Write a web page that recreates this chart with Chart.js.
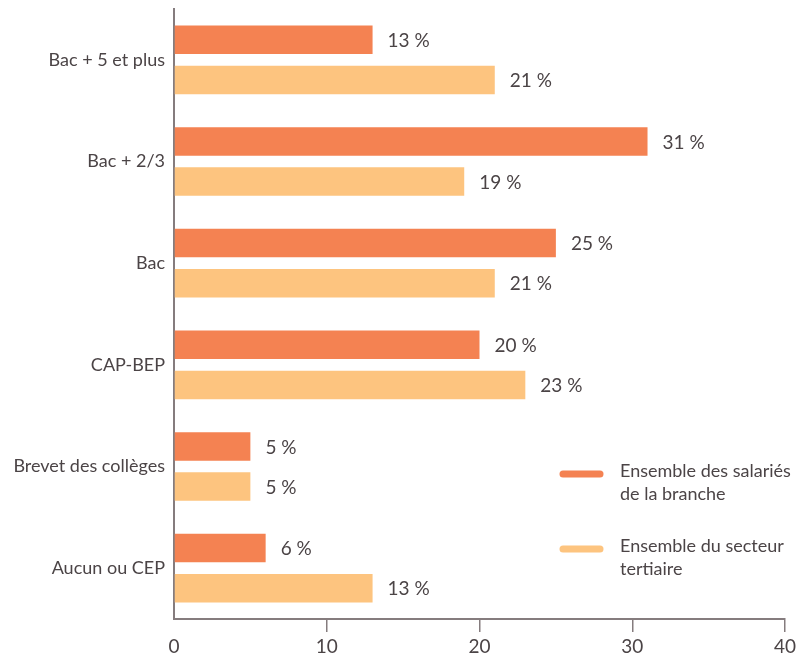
<!DOCTYPE html>
<html lang="fr">
<head>
<meta charset="utf-8">
<script src="https://cdn.jsdelivr.net/npm/chart.js@4"></script>
<style>
  html, body { margin: 0; padding: 0; background: #fff; }
  #wrap { width: 812px; height: 655px; position: relative; }
</style>
</head>
<body>
<div id="wrap"><canvas id="chart"></canvas></div>
<script>
// niveaux de diplôme
const categories = ["Bac + 5 et plus", "Bac + 2/3", "Bac", "CAP-BEP", "Brevet des collèges", "Aucun ou CEP"];
// séries en %
const brancheValues = [13, 31, 25, 20, 5, 6];
const tertiaireValues = [21, 19, 21, 23, 5, 13];
const seriesLabels = ["Ensemble des salariés\nde la branche", "Ensemble du secteur\ntertiaire"];
const xTicks = [0, 10, 20, 30, 40];

const TEXT = "#4b4446";
const AXIS = "#857c7e";
const FONT = "Lato, 'DejaVu Sans', sans-serif";

// étiquettes "xx %" en bout de barre
const valueLabels = {
  id: "valueLabels",
  afterDatasetsDraw(chart) {
    const ctx = chart.ctx;
    ctx.save();
    ctx.font = "19px " + FONT;
    ctx.fillStyle = TEXT;
    ctx.textBaseline = "middle";
    ctx.textAlign = "left";
    chart.data.datasets.forEach((ds, i) => {
      chart.getDatasetMeta(i).data.forEach((bar, j) => {
        ctx.fillText(ds.data[j] + " %", bar.x + 15, bar.y + 1);
      });
    });
    ctx.restore();
  }
};

// légende à droite, traits arrondis
const sideLegend = {
  id: "sideLegend",
  afterDraw(chart) {
    const ctx = chart.ctx;
    const ys = [474, 549];
    ctx.save();
    chart.data.datasets.forEach((ds, i) => {
      const y = ys[i];
      ctx.strokeStyle = ds.backgroundColor;
      ctx.lineWidth = 7;
      ctx.lineCap = "round";
      ctx.beginPath();
      ctx.moveTo(563, y);
      ctx.lineTo(600, y);
      ctx.stroke();
      ctx.font = "18px " + FONT;
      ctx.fillStyle = TEXT;
      ctx.textBaseline = "middle";
      ds.label.split("\n").forEach((line, k) => {
        ctx.fillText(line, 620, y - 3 + k * 23);
      });
    });
    ctx.restore();
  }
};

new Chart(document.getElementById("chart"), {
  type: "bar",
  data: {
    labels: categories,
    datasets: [
      {
        label: seriesLabels[0],
        data: brancheValues,
        backgroundColor: "#f48252",
        categoryPercentage: 0.79,
        barPercentage: 0.71,
      },
      {
        label: seriesLabels[1],
        data: tertiaireValues,
        backgroundColor: "#fdc47f",
        categoryPercentage: 0.79,
        barPercentage: 0.71,
      },
    ],
  },
  options: {
    indexAxis: "y",
    responsive: true,
    maintainAspectRatio: false,
    animation: false,
    layout: { padding: { top: 9, right: 27, left: 0, bottom: 0 } },
    plugins: {
      legend: { display: false },
      tooltip: { enabled: false },
    },
    scales: {
      x: {
        min: 0,
        max: 40,
        afterBuildTicks(scale) {
          scale.ticks = xTicks.map((v) => ({ value: v }));
        },
        afterFit(scale) {
          scale.height = 36;
          scale.paddingLeft = 0;
          scale.paddingRight = 0;
        },
        border: { display: true, color: AXIS, width: 2 },
        grid: {
          drawOnChartArea: false,
          drawTicks: true,
          tickLength: 13,
          lineWidth: 1.5,
          color: (c) => (c.tick && c.tick.value === 0 ? "rgba(0,0,0,0)" : AXIS),
        },
        ticks: {
          color: TEXT,
          padding: 3,
          font: { family: FONT, size: 19 },
        },
      },
      y: {
        afterFit(scale) {
          scale.width = 174;
          scale.paddingTop = 0;
          scale.paddingBottom = 0;
        },
        border: { display: true, color: AXIS, width: 2 },
        grid: { display: false, drawTicks: false },
        ticks: {
          color: TEXT,
          padding: 9,
          font: { family: FONT, size: 18 },
        },
      },
    },
  },
  plugins: [valueLabels, sideLegend],
});
</script>
</body>
</html>
